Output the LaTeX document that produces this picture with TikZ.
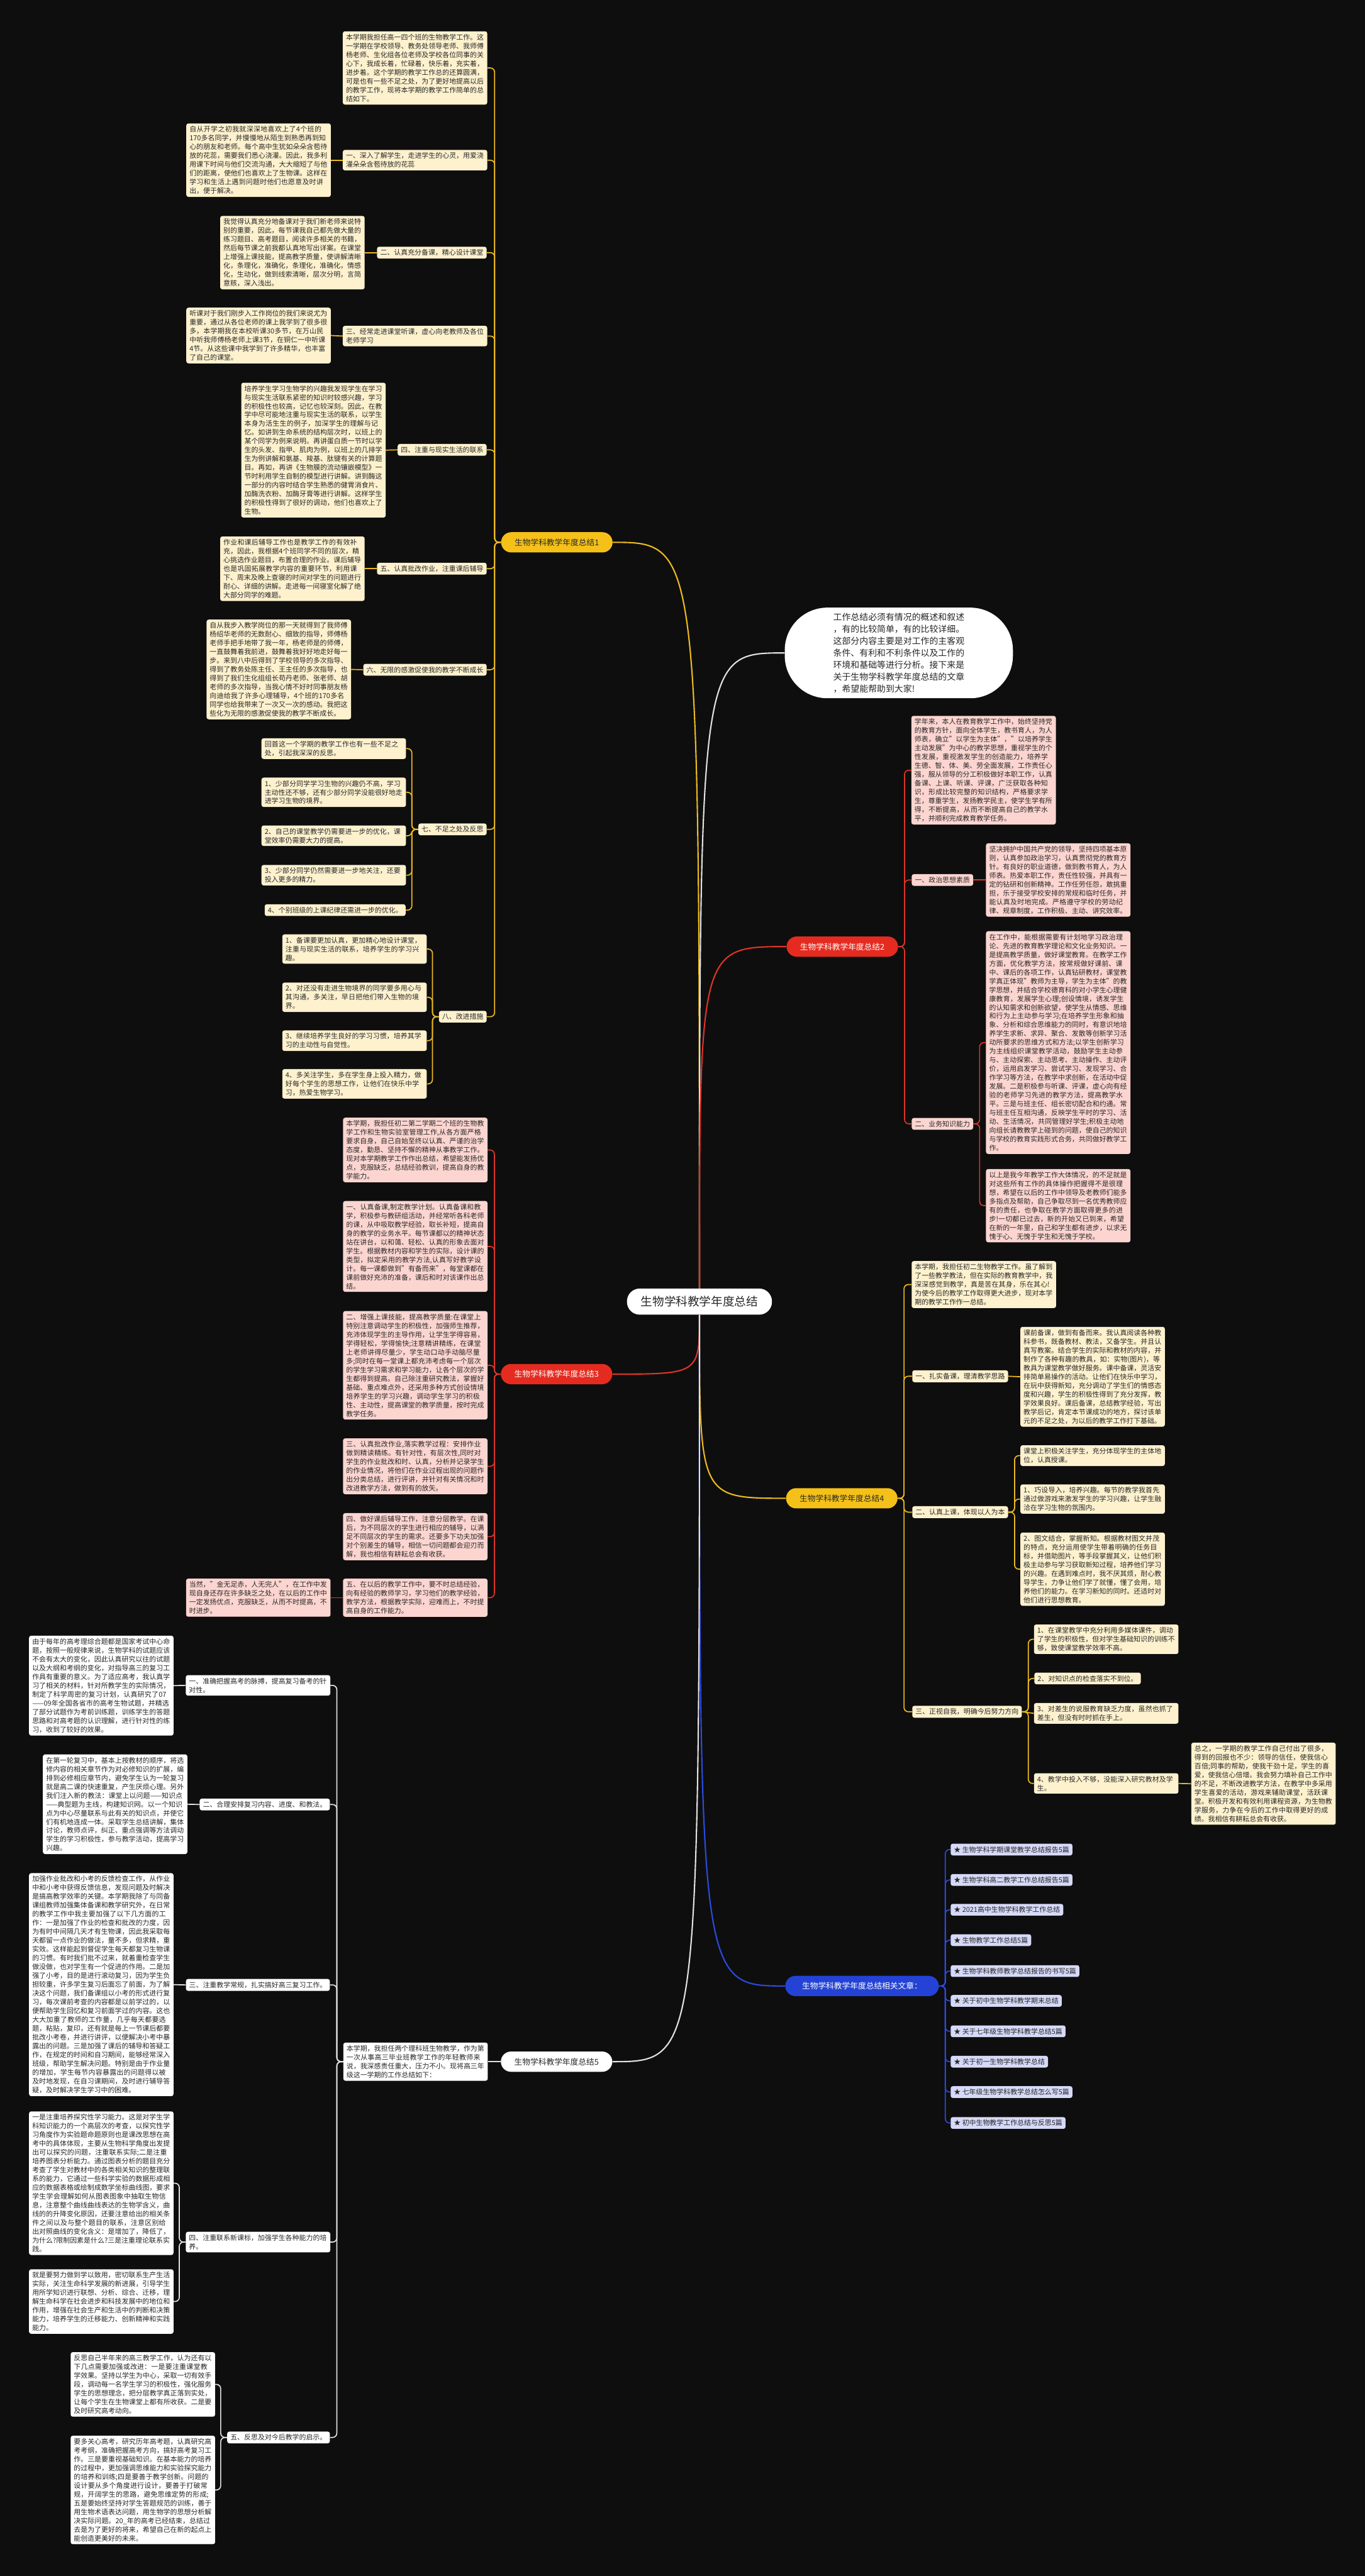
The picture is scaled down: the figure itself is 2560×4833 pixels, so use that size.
\documentclass[tikz,border=0pt]{standalone}
\usepackage{fontspec}
\setmainfont{Noto Sans CJK SC}
\XeTeXlinebreaklocale "zh"
\XeTeXlinebreakskip=0pt plus 1pt
\definecolor{bg}{RGB}{14,14,14}
\definecolor{ink}{RGB}{40,40,40}
\definecolor{cream}{RGB}{253,241,206}
\definecolor{pinkbox}{RGB}{252,213,208}
\definecolor{lav}{RGB}{214,217,247}
\definecolor{gold}{RGB}{245,193,25}
\definecolor{goldline}{RGB}{236,186,30}
\definecolor{redn}{RGB}{229,43,32}
\definecolor{redline}{RGB}{222,52,40}
\definecolor{bluen}{RGB}{36,67,214}
\definecolor{blueline}{RGB}{44,74,222}
\definecolor{greyline}{RGB}{225,225,225}
\newcommand{\boxfs}{\fontsize{12.9pt}{16.5pt}\selectfont}
\newcommand{\branchfs}{\fontsize{15pt}{18pt}\selectfont}
\newcommand{\rootfs}{\fontsize{22pt}{26pt}\selectfont}
\newcommand{\notefs}{\fontsize{16.4pt}{22.3pt}\selectfont}
\usetikzlibrary{positioning}

\begin{document}
\begin{tikzpicture}[x=1pt,y=-1pt]
  \tikzset{
    card/.style={rounded corners=4pt, inner xsep=6pt, inner ysep=5pt, align=left, text=ink, font=\boxfs},
    wide/.style={card, text width=259pt},
    onY/.style={fill=cream}, onR/.style={fill=pinkbox}, onW/.style={fill=white}, onB/.style={fill=lav},
    branch/.style={rounded corners=19pt, minimum height=38pt, minimum width=209pt, inner xsep=10pt, font=\branchfs},
    lkl/.style={to path={-- ++(-12,0) |- (\tikztotarget)}},
    lkr/.style={to path={-- ++(12,0) |- (\tikztotarget)}},
    yl/.style={draw=goldline, line width=2pt, rounded corners=8pt},
    rl/.style={draw=redline, line width=2pt, rounded corners=8pt},
    wl/.style={draw=greyline, line width=2pt, rounded corners=8pt},
    bl/.style={draw=blueline, line width=2pt, rounded corners=8pt},
  }
  \fill[bg] (0,0) rectangle (2560,4833);
  \useasboundingbox (0,0) rectangle (2560,4833);

  \node[rounded corners=24pt, fill=white, minimum width=272pt, minimum height=49pt, font=\rootfs, text=ink] (root) at (1312,2442) {生物学科教学年度总结};

  \node[branch, fill=gold, text=ink] (b1) at (1044.5,1017.5) {生物学科教学年度总结1};
  \node[branch, fill=redn, text=white] (b2) at (1580,1776) {生物学科教学年度总结2};
  \node[branch, fill=redn, text=white] (b3) at (1044,2578) {生物学科教学年度总结3};
  \node[branch, fill=gold, text=ink] (b4) at (1579,2811) {生物学科教学年度总结4};
  \node[branch, fill=white, text=ink] (b5) at (1044,3868) {生物学科教学年度总结5};
  \node[branch, fill=bluen, text=white, minimum width=288pt] (rel) at (1617,3726) {生物学科教学年度总结相关文章：};

  \node[rounded corners=80pt, fill=white, minimum width=428pt, minimum height=170pt, align=left, font=\notefs, text=ink] (note) at (1686,1225) {工作总结必须有情况的概述和叙述\\，有的比较简单，有的比较详细。\\这部分内容主要是对工作的主客观\\条件、有利和不利条件以及工作的\\环境和基础等进行分析。接下来是\\关于生物学科教学年度总结的文章\\，希望能帮助到大家!};

  \draw[goldline, line width=2.5pt] (root.north) .. controls (root.north |- b1.east) .. (b1.east);
  \draw[greyline, line width=2.5pt] (root.north) .. controls (root.north |- note.west) .. (note.west);
  \draw[redline, line width=2.5pt] (root.north) .. controls (root.north |- b2.west) .. (b2.west);
  \draw[redline, line width=2.5pt] (root.south) .. controls (root.south |- b3.east) .. (b3.east);
  \draw[goldline, line width=2.5pt] (root.south) .. controls (root.south |- b4.west) .. (b4.west);
  \draw[blueline, line width=2.5pt] (root.south) .. controls (root.south |- rel.west) .. (rel.west);
  \draw[greyline, line width=2.5pt] (root.south) .. controls (root.south |- b5.east) .. (b5.east);

  % 1
  \node[wide, onY] (a1) at (778.5,127.5) {本学期我担任高一四个班的生物教学工作。这一学期在学校领导、教务处领导老师、我师傅杨老师、生化组各位老师及学校各位同事的关心下，我成长着，忙碌着，快乐着，充实着，进步着。这个学期的教学工作总的还算圆满，可是也有一些不足之处，为了更好地提高以后的教学工作，现将本学期的教学工作简单的总结如下。};
  \node[wide, onY] (p1) at (778.5,300.5) {一、深入了解学生，走进学生的心灵，用爱浇灌朵朵含苞待放的花蕊};
  \node[wide, onY] (p1t) at (485,300.5) {自从开学之初我就深深地喜欢上了4个班的170多名同学，并慢慢地从陌生到熟悉再到知心的朋友和老师。每个高中生犹如朵朵含苞待放的花蕊，需要我们悉心浇灌。因此，我多利用课下时间与他们交流沟通，大大缩短了与他们的距离，使他们也喜欢上了生物课。这样在学习和生活上遇到问题时他们也愿意及时讲出，便于解决。};
  \node[card, onY, anchor=east] (p2) at (913,474) {二、认真充分备课，精心设计课堂};
  \node[wide, onY] (p2t) at (548.5,474) {我觉得认真充分地备课对于我们新老师来说特别的重要，因此，每节课我自己都先做大量的练习题目、高考题目，阅读许多相关的书籍，然后每节课之前我都认真地写出详案。在课堂上增强上课技能，提高教学质量，使讲解清晰化，条理化，准确化，条理化，准确化，情感化，生动化，做到线索清晰，层次分明，言简意赅，深入浅出。};
  \node[wide, onY] (p3) at (778.5,630.5) {三、经常走进课堂听课，虚心向老教师及各位老师学习};
  \node[wide, onY] (p3t) at (485,629.5) {听课对于我们刚步入工作岗位的我们来说尤为重要，通过从各位老师的课上我学到了很多很多，本学期我在本校听课30多节，在万山民中听我师傅杨老师上课3节，在铜仁一中听课4节。从这些课中我学到了许多精华，也丰富了自己的课堂。};
  \node[card, onY, anchor=east] (p4) at (913,844) {四、注重与现实生活的联系};
  \node[wide, onY] (p4t) at (588,844.5) {培养学生学习生物学的兴趣我发现学生在学习与现实生活联系紧密的知识时较感兴趣，学习的积极性也较高，记忆也较深刻。因此，在教学中尽可能地注重与现实生活的联系，以学生本身为活生生的例子，加深学生的理解与记忆。如讲到生命系统的结构层次时，以班上的某个同学为例来说明。再讲蛋白质一节时以学生的头发、指甲、肌肉为例，以班上的几排学生为例讲解和氨基、羧基、肽键有关的计算题目。再如，再讲《生物膜的流动镶嵌模型》一节时利用学生自制的模型进行讲解。讲到酶这一部分的内容时结合学生熟悉的健胃消食片、加酶洗衣粉、加酶牙膏等进行讲解。这样学生的积极性得到了很好的调动，他们也喜欢上了生物。};
  \node[card, onY, anchor=east] (p5) at (913,1067) {五、认真批改作业，注重课后辅导};
  \node[wide, onY] (p5t) at (548.5,1067) {作业和课后辅导工作也是教学工作的有效补充，因此，我根据4个班同学不同的层次，精心挑选作业题目，布置合理的作业。课后辅导也是巩固拓展教学内容的重要环节，利用课下、周末及晚上查寝的时间对学生的问题进行耐心、详细的讲解。走进每一间寝室化解了绝大部分同学的难题。};
  \node[card, onY, anchor=east] (p6) at (913,1256.5) {六、无限的感激促使我的教学不断成长};
  \node[wide, onY] (p6t) at (523,1256) {自从我步入教学岗位的那一天就得到了我师傅杨绍华老师的无数耐心、细致的指导，师傅杨老师手把手地带了我一年，杨老师是的师傅，一直鼓舞着我前进，鼓舞着我好好地走好每一步。来到八中后得到了学校领导的多次指导、得到了教务处陈主任、王主任的多次指导，也得到了我们生化组组长苟丹老师、张老师、胡老师的多次指导，当我心情不好时同事朋友杨向迪给我了许多心理辅导，4个班的170多名同学也给我带来了一次又一次的感动。我把这些化为无限的感激促使我的教学不断成长。};
  \node[card, onY, anchor=east] (p7) at (913,1556) {七、不足之处及反思};
  \node[wide, onY] (p71) at (626,1404.5) {回首这一个学期的教学工作也有一些不足之处，引起我深深的反思。};
  \node[wide, onY] (p72) at (626,1486.5) {1、少部分同学学习生物的兴趣仍不高，学习主动性还不够，还有少部分同学没能很好地走进学习生物的境界。};
  \node[wide, onY] (p73) at (626,1568) {2、自己的课堂教学仍需要进一步的优化，课堂效率仍需要大力的提高。};
  \node[wide, onY] (p74) at (626,1642) {3、少部分同学仍然需要进一步地关注，还要投入更多的精力。};
  \node[card, onY, anchor=east] (p75) at (761,1707.5) {4、个别班级的上课纪律还需进一步的优化。};
  \node[card, onY, anchor=east] (p8) at (913,1907.5) {八、改进措施};
  \node[wide, onY] (p81) at (665,1780.5) {1、备课要更加认真，更加精心地设计课堂，注重与现实生活的联系，培养学生的学习兴趣。};
  \node[wide, onY] (p82) at (665,1871) {2、对还没有走进生物境界的同学要多用心与其沟通，多关注，早日把他们带入生物的境界。};
  \node[wide, onY] (p83) at (665,1952.5) {3、继续培养学生良好的学习习惯，培养其学习的主动性与自觉性。};
  \node[wide, onY] (p84) at (665,2033.5) {4、多关注学生，多在学生身上投入精力，做好每个学生的思想工作，让他们在快乐中学习，热爱生物学习。};

  \draw[yl] (b1.west) to[lkl] (a1.east);
  \draw[yl] (b1.west) to[lkl] (p1.east);
  \draw[yl] (b1.west) to[lkl] (p2.east);
  \draw[yl] (b1.west) to[lkl] (p3.east);
  \draw[yl] (b1.west) to[lkl] (p4.east);
  \draw[yl] (b1.west) to[lkl] (p5.east);
  \draw[yl] (b1.west) to[lkl] (p6.east);
  \draw[yl] (b1.west) to[lkl] (p7.east);
  \draw[yl] (b1.west) to[lkl] (p8.east);
  \draw[yl] (p1.west) -- (p1t.east);
  \draw[yl] (p2.west) -- (p2t.east);
  \draw[yl] (p3.west) -- (p3t.east);
  \draw[yl] (p4.west) -- (p4t.east);
  \draw[yl] (p5.west) -- (p5t.east);
  \draw[yl] (p6.west) -- (p6t.east);
  \draw[yl] (p7.west) to[lkl] (p71.east);
  \draw[yl] (p7.west) to[lkl] (p72.east);
  \draw[yl] (p7.west) to[lkl] (p73.east);
  \draw[yl] (p7.west) to[lkl] (p74.east);
  \draw[yl] (p7.west) to[lkl] (p75.east);
  \draw[yl] (p8.west) to[lkl] (p81.east);
  \draw[yl] (p8.west) to[lkl] (p82.east);
  \draw[yl] (p8.west) to[lkl] (p83.east);
  \draw[yl] (p8.west) to[lkl] (p84.east);

  % 2
  \node[wide, onR] (q0) at (1845,1445) {学年来，本人在教育教学工作中，始终坚持党的教育方针，面向全体学生，教书育人，为人师表，确立"以学生为主体"，"以培养学生主动发展"为中心的教学思想，重视学生的个性发展，重视激发学生的创造能力，培养学生德、智、体、美、劳全面发展，工作责任心强，服从领导的分工积极做好本职工作，认真备课、上课、听课、评课，广泛获取各种知识，形成比较完整的知识结构，严格要求学生，尊重学生，发扬教学民主，使学生学有所得，不断提高，从而不断提高自己的教学水平，并顺利完成教育教学任务。};
  \node[card, onR, anchor=west] (q1) at (1710,1651) {一、政治思想素质};
  \node[wide, onR] (q1t) at (1985,1651) {坚决拥护中国共产党的领导，坚持四项基本原则，认真参加政治学习，认真贯彻党的教育方针。有良好的职业道德，做到教书育人，为人师表。热爱本职工作，责任性较强，并具有一定的钻研和创新精神。工作任劳任怨，敢挑重担，乐于接受学校安排的常规和临时任务，并能认真及时地完成。严格遵守学校的劳动纪律、规章制度，工作积极、主动、讲究效率。};
  \node[card, onR, anchor=west] (q2) at (1710,2108.5) {二、业务知识能力};
  \node[wide, onR] (q2a) at (1985,1956) {在工作中，能根据需要有计划地学习政治理论、先进的教育教学理论和文化业务知识。一是提高教学质量，做好课堂教育。在教学工作方面，优化教学方法，按常规做好课前、课中、课后的各项工作，认真钻研教材，课堂教学真正体现"教师为主导，学生为主体"的教学思想，并结合学校德育科的对小学生心理健康教育，发展学生心理;创设情境，诱发学生的认知需求和创新欲望，使学生从情感、思维和行为上主动参与学习;在培养学生形象和抽象、分析和综合思维能力的同时，有意识地培养学生求新、求异、聚合、发散等创新学习活动所要求的思维方式和方法;以学生创新学习为主线组织课堂教学活动，鼓励学生主动参与、主动探索、主动思考、主动操作、主动评价，运用启发学习、尝试学习、发现学习、合作学习等方法，在教学中求创新，在活动中促发展。二是积极参与听课、评课，虚心向有经验的老师学习先进的教学方法，提高教学水平。三是与班主任、组长密切配合和约通。常与班主任互相沟通，反映学生平时的学习、活动、生活情况，共同管理好学生;积极主动地向组长请教教学上碰到的问题，使自己的知识与学校的教育实践形式合务，共同做好教学工作。};
  \node[wide, onR] (q2b) at (1985,2262) {以上是我今年教学工作大体情况，的不足就是对这些所有工作的具体操作把握得不是很理想，希望在以后的工作中领导及老教师们能多多指点及帮助，自己争取尽到一名优秀教师应有的责任，也争取在教学方面取得更多的进步!一切都已过去，新的开始又已到来，希望在新的一年里，自己和学生都有进步，以求无愧于心、无愧于学生和无愧于学校。};

  \draw[rl] (b2.east) to[lkr] (q0.west);
  \draw[rl] (b2.east) to[lkr] (q1.west);
  \draw[rl] (b2.east) to[lkr] (q2.west);
  \draw[rl] (q1.east) -- (q1t.west);
  \draw[rl] (q2.east) to[lkr] (q2a.west);
  \draw[rl] (q2.east) to[lkr] (q2b.west);

  % 3
  \node[wide, onR] (s0) at (779,2157.5) {本学期，我担任初二第二学期二个班的生物教学工作和生物实验室管理工作,从各方面严格要求自身，自己自始至终以认真、严谨的治学态度，勤恳、坚持不懈的精神从事教学工作。现对本学期教学工作作出总结，希望能发扬优点，克服缺乏，总结经验教训，提高自身的教学能力。};
  \node[wide, onR] (s1) at (779,2338.5) {一、认真备课,制定教学计划。认真备课和教学，积极参与教研组活动，并经常听各科老师的课，从中吸取教学经验，取长补短，提高自身的教学的业务水平。每节课都以的精神状态站在讲台，以和蔼、轻松、认真的形象去面对学生。根据教材内容和学生的实际，设计课的类型，拟定采用的教学方法,认真写好教学设计。每一课都做到"有备而来"，每堂课都在课前做好充沛的准备，课后和时对该课作出总结。};
  \node[wide, onR] (s2) at (779,2561.5) {二、增强上课技能，提高教学质量:在课堂上特别注意调动学生的积极性，加强师生推荐，充沛体现学生的主导作用，让学生学得容易，学得轻松，学得愉快;注意精讲精练，在课堂上老师讲得尽量少，学生动口动手动脑尽量多;同时在每一堂课上都充沛考虑每一个层次的学生学习需求和学习能力，让各个层次的学生都得到提高。自己除注重研究教法，掌握好基础、重点难点外，还采用多种方式创设情境培养学生的学习兴趣，调动学生学习的积极性、主动性，提高课堂的教学质量，按时完成教学任务。};
  \node[wide, onR] (s3) at (779,2751) {三、认真批改作业,落实教学过程：安排作业做到精读精练。有针对性，有层次性,同时对学生的作业批改和时、认真，分析并记录学生的作业情况，将他们在作业过程出现的问题作出分类总结，进行评讲，并针对有关情况和时改进教学方法，做到有的放矢。};
  \node[wide, onR] (s4) at (779,2883) {四、做好课后辅导工作，注意分层教学。在课后，为不同层次的学生进行相应的辅导，以满足不同层次的学生的需求。还要多下功夫加强对个别差生的辅导，相信一切问题都会迎刃而解，我也相信有耕耘总会有收获。};
  \node[wide, onR] (s5) at (779,2997.5) {五、在以后的教学工作中，要不时总结经验，向有经验的教师学习，学习他们的教学经验，教学方法，根据教学实际，迎难而上，不时提高自身的工作能力。};
  \node[wide, onR] (s5t) at (484.5,2997.5) {当然，"金无足赤，人无完人"，在工作中发现自身还存在许多缺乏之处，在以后的工作中一定发扬优点，克服缺乏，从而不时提高，不时进步。};

  \draw[rl] (b3.west) to[lkl] (s0.east);
  \draw[rl] (b3.west) to[lkl] (s1.east);
  \draw[rl] (b3.west) to[lkl] (s2.east);
  \draw[rl] (b3.west) to[lkl] (s3.east);
  \draw[rl] (b3.west) to[lkl] (s4.east);
  \draw[rl] (b3.west) to[lkl] (s5.east);
  \draw[rl] (s5.west) -- (s5t.east);

  % 4
  \node[wide, onY] (u0) at (1845.5,2410) {本学期，我担任初二生物教学工作。虽了解到了一些教学教法，但在实际的教育教学中，我深深感觉到教学，真是苦在其身，乐在其心!为使今后的教学工作取得更大进步，现对本学期的教学工作作一总结。};
  \node[card, onY, anchor=west] (u1) at (1711,2582) {一、扎实备课，理清教学思路};
  \node[wide, onY] (u1t) at (2049.5,2583) {课前备课，做到有备而来。我认真阅读各种教科参书，既备教材、教法，又备学生。并且认真写教案。结合学生的实际和教材的内容，并制作了各种有趣的教具，如：实物(图片)，等教具为课堂教学做好服务。课中备课，灵活安排简单易操作的活动。让他们在快乐中学习，在玩中获得新知，充分调动了学生们的情感态度和兴趣，学生的积极性得到了充分发挥，教学效果良好。课后备课，总结教学经验，写出教学后记，肯定本节课成功的地方，探讨该单元的不足之处，为以后的教学工作打下基础。};
  \node[card, onY, anchor=west] (u2) at (1711,2837) {二、认真上课，体现以人为本};
  \node[wide, onY] (u21) at (2049.5,2731) {课堂上积极关注学生，充分体现学生的主体地位，认真授课。};
  \node[wide, onY] (u22) at (2049.5,2812.5) {1、巧设导入，培养兴趣。每节的教学我首先通过做游戏来激发学生的学习兴趣，让学生融洽在学习生物的氛围内。};
  \node[wide, onY] (u23) at (2049.5,2944) {2、图文结合，掌握新知。根据教材图文并茂的特点，充分运用使学生带着明确的任务目标，并借助图片，等手段掌握其义，让他们积极主动参与学习获取新知过程，培养他们学习的兴趣。在遇到难点时，我不厌其烦，耐心教导学生，力争让他们学了就懂，懂了会用，培养他们的能力。在学习新知的同时。还适时对他们进行思想教育。};
  \node[card, onY, anchor=west] (u3) at (1711,3211.5) {三、正视自我，明确今后努力方向};
  \node[wide, onY] (u31) at (2075,3075.5) {1、在课堂教学中充分利用多媒体课件，调动了学生的积极性，但对学生基础知识的训练不够，致使课堂教学效率不高。};
  \node[card, onY, anchor=west] (u32) at (1940,3149) {2、对知识点的检查落实不到位。};
  \node[wide, onY] (u33) at (2075,3214.5) {3、对差生的说服教育缺乏力度，虽然也抓了差生，但没有时时抓在手上。};
  \node[wide, onY] (u34) at (2075,3346) {4、教学中投入不够，没能深入研究教材及学生。};
  \node[wide, onY] (u34t) at (2370,3346.5) {总之，一学期的教学工作自己付出了很多，得到的回报也不少：领导的信任，使我信心百倍;同事的帮助，使我干劲十足，学生的喜爱，使我信心倍增。我会努力填补自己工作中的不足，不断改进教学方法，在教学中多采用学生喜爱的活动，游戏来辅助课堂，活跃课堂。积极开发和有效利用课程资源，为生物教学服务，力争在今后的工作中取得更好的成绩。我相信有耕耘总会有收获。};

  \draw[yl] (b4.east) to[lkr] (u0.west);
  \draw[yl] (b4.east) to[lkr] (u1.west);
  \draw[yl] (b4.east) to[lkr] (u2.west);
  \draw[yl] (b4.east) to[lkr] (u3.west);
  \draw[yl] (u1.east) -- (u1t.west);
  \draw[yl] (u2.east) to[lkr] (u21.west);
  \draw[yl] (u2.east) to[lkr] (u22.west);
  \draw[yl] (u2.east) to[lkr] (u23.west);
  \draw[yl] (u3.east) to[lkr] (u31.west);
  \draw[yl] (u3.east) to[lkr] (u32.west);
  \draw[yl] (u3.east) -- (u33.west);
  \draw[yl] (u3.east) to[lkr] (u34.west);
  \draw[yl] (u34.east) -- (u34t.west);

  % related
  \node[card, onB, anchor=west] (r1) at (1783,3470) {★ 生物学科学期课堂教学总结报告5篇};
  \node[card, onB, anchor=west] (r2) at (1783,3527) {★ 生物学科高二教学工作总结报告5篇};
  \node[card, onB, anchor=west] (r3) at (1783,3583) {★ 2021高中生物学科教学工作总结};
  \node[card, onB, anchor=west] (r4) at (1783,3640) {★ 生物教学工作总结5篇};
  \node[card, onB, anchor=west] (r5) at (1783,3698) {★ 生物学科教师教学总结报告的书写5篇};
  \node[card, onB, anchor=west] (r6) at (1783,3754) {★ 关于初中生物学科教学期末总结};
  \node[card, onB, anchor=west] (r7) at (1783,3811) {★ 关于七年级生物学科教学总结5篇};
  \node[card, onB, anchor=west] (r8) at (1783,3868) {★ 关于初一生物学科教学总结};
  \node[card, onB, anchor=west] (r9) at (1783,3925) {★ 七年级生物学科教学总结怎么写5篇};
  \node[card, onB, anchor=west] (r10) at (1783,3983) {★ 初中生物教学工作总结与反思5篇};
  \foreach \i in {1,...,10}
    \draw[bl] (rel.east) to[lkr] (r\i.west);

  % 5
  \node[wide, onW] (v0) at (779.5,3868) {本学期，我担任两个理科班生物教学，作为第一次从事高三毕业班教学工作的年轻教师来说，我深感责任重大，压力不小。现将高三年级这一学期的工作总结如下：};
  \node[wide, onW] (v1) at (484,3162) {一、准确把握高考的脉搏，提高复习备考的针对性。};
  \node[wide, onW] (v1t) at (190,3162.5) {由于每年的高考理综合题都是国家考试中心命题，按照一般规律来说，生物学科的试题应该不会有太大的变化，因此认真研究以往的试题以及大纲和考纲的变化，对指导高三的复习工作具有重要的意义。为了适应高考，我认真学习了相关的材料，针对所教学生的实际情况，制定了科学周密的复习计划，认真研究了07——09年全国各省市的高考生物试题，并精选了部分试题作为考前训练题，训练学生的答题思路和对高考题的认识理解，进行针对性的练习，收到了较好的效果。};
  \node[card, onW, anchor=east] (v2) at (619,3385.5) {二、合理安排复习内容、进度、和教法。};
  \node[wide, onW] (v2t) at (216,3385) {在第一轮复习中，基本上按教材的顺序，将选修内容的相关章节作为对必修知识的扩展，编排到必修相应章节内，避免学生认为一轮复习就是高二课的快速重复，产生厌烦心理。另外我们注入新的教法：课堂上以问题——知识点——典型题为主线，构建知识网。以一个知识点为中心尽量联系与此有关的知识点，并使它们有机地连成一体。采取学生总结讲解，集体讨论，教师点评，纠正、重点强调等方法调动学生的学习积极性，参与教学活动，提高学习兴趣。};
  \node[card, onW, anchor=east] (v3) at (619,3724) {三、注重教学常规，扎实搞好高三复习工作。};
  \node[wide, onW] (v3t) at (190,3723.5) {加强作业批改和小考的反馈检查工作，从作业中和小考中获得反馈信息，发现问题及时解决是搞高教学效率的关键。本学期我除了与同备课组教师加强集体备课和教学研究外，在日常的教学工作中我主要加强了以下几方面的工作：一是加强了作业的检查和批改的力度，因为有时中间隔几天才有生物课，因此我采取每天都留一点作业的做法，量不多，但求精，重实效。这样能起到督促学生每天都复习生物课的习惯。有时我们批不过来，就着重检查学生做没做，也对学生有一个促进的作用。二是加强了小考，目的是进行滚动复习，因为学生负担较重，许多学生复习后面忘了前面，为了解决这个问题，我们备课组以小考的形式进行复习，每次课前考查的内容都是以前学过的，以便帮助学生回忆和复习前面学过的内容。这也大大加重了教师的工作量，几乎每天都要选题，粘贴，复印，还有就是每上一节课后都要批改小考卷，并进行讲评，以便解决小考中暴露出的问题。三是加强了课后的辅导和答疑工作，在规定的时间和自习期间，能够经常深入班级，帮助学生解决问题。特别是由于作业量的增加，学生每节内容暴露出的问题得以被及时地发现，在自习课期间，及时进行辅导答疑，及时解决学生学习中的困难。};
  \node[wide, onW] (v4) at (484,4206.5) {四、注重联系新课标，加强学生各种能力的培养。};
  \node[wide, onW] (v4a) at (190,4096) {一是注重培养探究性学习能力。这是对学生学科知识能力的一个高层次的考查，以探究性学习角度作为实验题命题原则也是课改思想在高考中的具体体现，主要从生物科学角度出发提出可以探究的问题，注重联系实际;二是注重培养图表分析能力。通过图表分析的题目充分考查了学生对教材中的各类相关知识的整理联系的能力，它通过一些科学实验的数据形成相应的数据表格或绘制成数学坐标曲线图，要求学生学会理解如何从图表图象中抽取生物信息，注意整个曲线曲线表达的生物学含义，曲线的的升降变化原因，还要注意给出的相关条件之间以及与整个题目的联系，注意区别给出对照曲线的变化含义：是增加了，降低了，为什么?限制因素是什么?三是注重理论联系实践。};
  \node[wide, onW] (v4b) at (190,4318) {就是要努力做到学以致用，密切联系生产生活实际，关注生命科学发展的新进展，引导学生用所学知识进行联想、分析、综合、迁移，理解生命科学在社会进步和科技发展中的地位和作用，增强在社会生产和生活中的判断和决策能力，培养学生的迁移能力、创新精神和实践能力。};
  \node[card, onW, anchor=east] (v5) at (619,4573) {五、反思及对今后教学的启示。};
  \node[wide, onW] (v5a) at (268,4473.5) {反思自己半年来的高三教学工作，认为还有以下几点需要加强或改进：一是要注重课堂教学效果。坚持以学生为中心，采取一切有效手段，调动每一名学生学习的积极性，强化服务学生的思想理念，把分层教学真正落到实处，让每个学生在生物课堂上都有所收获。二是要及时研究高考动向。};
  \node[wide, onW] (v5b) at (268,4671.5) {要多关心高考，研究历年高考题，认真研究高考考纲，准确把握高考方向，搞好高考复习工作。三是要重视基础知识。在基本能力的培养的过程中，更加强调思维能力和实验探究能力的培养和训练;四是要善于教学创新。问题的设计要从多个角度进行设计，要善于打破常规，开阔学生的思路，避免思维定势的形成;五是要始终坚持对学生答题规范的训练，善于用生物术语表达问题，用生物学的思想分析解决实际问题。20\_年的高考已经结束，总结过去是为了更好的将来，希望自己在新的起点上能创造更美好的未来。};

  \draw[wl] (b5.west) -- (v0.east);
  \draw[wl] (v0.west) to[lkl] (v1.east);
  \draw[wl] (v0.west) to[lkl] (v2.east);
  \draw[wl] (v0.west) to[lkl] (v3.east);
  \draw[wl] (v0.west) to[lkl] (v4.east);
  \draw[wl] (v0.west) to[lkl] (v5.east);
  \draw[wl] (v1.west) -- (v1t.east);
  \draw[wl] (v2.west) -- (v2t.east);
  \draw[wl] (v3.west) -- (v3t.east);
  \draw[wl] (v4.west) to[lkl] (v4a.east);
  \draw[wl] (v4.west) to[lkl] (v4b.east);
  \draw[wl] (v5.west) to[lkl] (v5a.east);
  \draw[wl] (v5.west) to[lkl] (v5b.east);
\end{tikzpicture}
\end{document}
